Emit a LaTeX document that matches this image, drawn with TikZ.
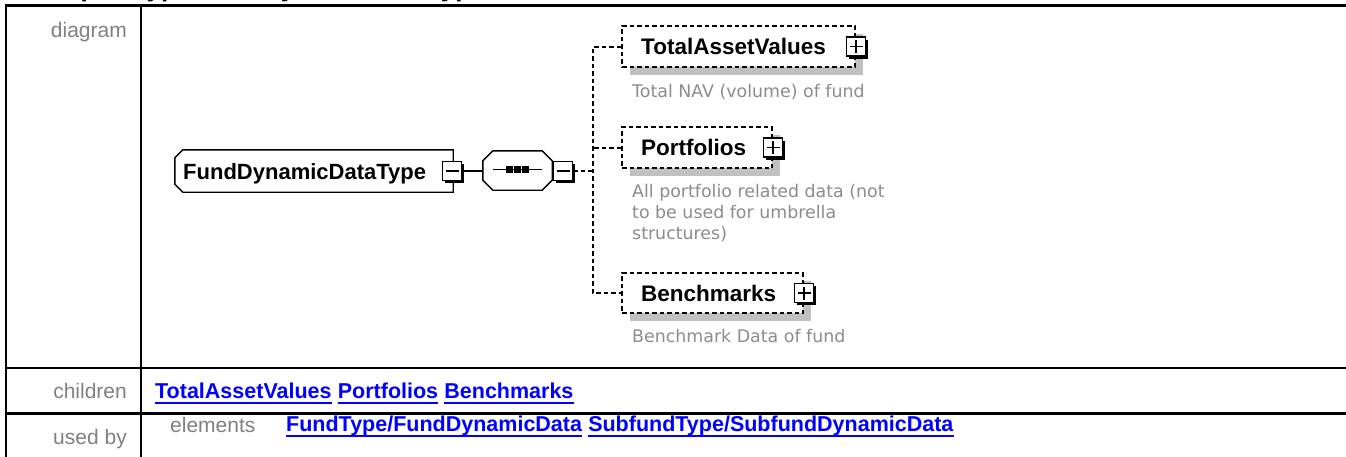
\documentclass[tikz,border=0pt]{standalone}
\usepackage{fontspec}
\setmainfont{Liberation Sans}
\newfontfamily\descfont{DejaVu Sans}
\usetikzlibrary{calc,shadows}
\definecolor{lbl}{RGB}{128,128,128}
\definecolor{desc}{RGB}{140,140,140}
\definecolor{shad}{RGB}{192,192,192}
\definecolor{lnk}{RGB}{0,0,255}
\tikzset{
  tbl/.style={line width=2.5pt, line cap=rect},
  rowlabel/.style={anchor=base east, text=lbl, font=\fontsize{21}{25}\selectfont, inner sep=0pt},
  plainlbl/.style={anchor=base west, text=lbl, font=\fontsize{21}{25}\selectfont, inner sep=0pt},
  link/.style={anchor=base west, text=lnk, font=\fontsize{21.5}{25}\selectfont\bfseries, inner sep=0pt},
  ul/.style={draw=lnk, line width=2pt},
  etext/.style={anchor=west, font=\fontsize{22.5}{26}\selectfont\bfseries, inner sep=0pt},
  desctext/.style={anchor=base west, text=desc, font=\descfont\fontsize{17.4}{21}\selectfont, inner sep=0pt},
  frame/.style={inner sep=0pt},
  outline/.style={draw=black, line width=1.4pt, fill=white},
  shadowfill/.style={fill=shad},
  elem/.style={draw=black, dash pattern=on 4.5pt off 3pt, line width=2pt, fill=white, inner sep=0pt,
    drop shadow={shadow xshift=8pt, shadow yshift=-8pt, fill=shad, opacity=1}},
  btn/.style={draw=black, line width=1.6pt, fill=white, minimum size=19pt, inner sep=0pt,
    drop shadow={shadow xshift=2.5pt, shadow yshift=-2.5pt, fill=black, opacity=1}},
  minusbtn/.style={btn, path picture={\draw[line width=1.5pt] ([xshift=3pt]path picture bounding box.west) -- ([xshift=-3pt]path picture bounding box.east);}},
  plusbtn/.style={btn, path picture={\draw[line width=1.5pt] ([xshift=3pt]path picture bounding box.west) -- ([xshift=-3pt]path picture bounding box.east) ([yshift=-3pt]path picture bounding box.north) -- ([yshift=3pt]path picture bounding box.south);}},
  conn/.style={draw=black, line width=1.4pt},
  dconn/.style={draw=black, line width=2pt, dash pattern=on 4.5pt off 3pt},
}
\begin{document}
\begin{tikzpicture}[x=1pt,y=-1pt]
\useasboundingbox (0,0) rectangle (1346,456);
\clip (0,0) rectangle (1346,456);
\fill[white] (0,0) rectangle (1346,456);

% clipped title
\node[anchor=base west, font=\fontsize{26}{30}\selectfont\bfseries, inner sep=0pt] (title) at (27,-3.5) {complexType FundDynamicDataType};

% table
\draw[tbl] (6,5.5) -- (1346,5.5);
\draw[tbl] (6,368) -- (1346,368);
\draw[tbl] (6,413.5) -- (1346,413.5);
\draw[tbl] (6,5.5) -- (6,460);
\draw[tbl] (141,5.5) -- (141,460);

\node[rowlabel] (ldiag) at (127,37) {diagram};
\node[rowlabel] (lchild) at (127,398) {children};
\node[rowlabel] (lused) at (127,444) {used by};
\node[plainlbl] (lelem) at (170,432) {elements};

% children links
\node[link] (c1) at (155,398) {TotalAssetValues};
\node[link] (c2) at ([xshift=5.8pt]c1.base east) {Portfolios};
\node[link] (c3) at ([xshift=5.8pt]c2.base east) {Benchmarks};
\foreach \n in {c1,c2,c3}{\draw[ul] ([yshift=-4.5pt]\n.base west) -- ([yshift=-4.5pt]\n.base east);}
% used by links
\node[link] (u1) at (286,431) {FundType/FundDynamicData};
\node[link] (u2) at ([xshift=5.8pt]u1.base east) {SubfundType/SubfundDynamicData};
\foreach \n in {u1,u2}{\draw[ul] ([yshift=-4.5pt]\n.base west) -- ([yshift=-4.5pt]\n.base east);}

% root node
\node[frame, minimum width=278pt, minimum height=42pt] (root) at (314,171) {};
\path[shadowfill, shift={(8,8)}] ($(root.north west)+(8,0)$) -- (root.north east) -- (root.south east) -- ($(root.south west)+(8,0)$) -- ($(root.south west)+(0,-8)$) -- ($(root.north west)+(0,8)$) -- cycle;
\path[outline] ($(root.north west)+(8,0)$) -- (root.north east) -- (root.south east) -- ($(root.south west)+(8,0)$) -- ($(root.south west)+(0,-8)$) -- ($(root.north west)+(0,8)$) -- cycle;
\node[anchor=base west, font=\fontsize{22}{26}\selectfont\bfseries, inner sep=0pt] (roottext) at (183,179) {FundDynamicDataType};
\node[minusbtn] (rootbtn) at (452,171) {};

% sequence node
\node[frame, minimum width=69pt, minimum height=39pt] (seq) at (517.5,170.5) {};
\path[shadowfill, shift={(7,7)}] ($(seq.north west)+(10,0)$) -- ($(seq.north east)+(-10,0)$) -- ($(seq.north east)+(0,10)$) -- ($(seq.south east)+(0,-10)$) -- ($(seq.south east)+(-10,0)$) -- ($(seq.south west)+(10,0)$) -- ($(seq.south west)+(0,-10)$) -- ($(seq.north west)+(0,10)$) -- cycle;
\path[outline] ($(seq.north west)+(10,0)$) -- ($(seq.north east)+(-10,0)$) -- ($(seq.north east)+(0,10)$) -- ($(seq.south east)+(0,-10)$) -- ($(seq.south east)+(-10,0)$) -- ($(seq.south west)+(10,0)$) -- ($(seq.south west)+(0,-10)$) -- ($(seq.north west)+(0,10)$) -- cycle;
\draw[line width=1.6pt] ($(seq.center)+(-24.5,-1)$) -- ($(seq.center)+(24.5,-1)$);
\foreach \dx in {-11.5,-3.5,4.5}{\fill ($(seq.center)+(\dx,-4.5)$) rectangle +(7,7);}
\node[minusbtn] (seqbtn) at (563,171) {};

\draw[conn] (rootbtn.east) -- (rootbtn.east -| seq.west);

% children elements
\node[elem, minimum width=233pt, minimum height=41pt] (tav) at (738.5,46.5) {};
\node[etext] (tavt) at ([xshift=20pt]tav.west) {TotalAssetValues};
\node[plusbtn] (tavbtn) at (tav.east) {};
\node[desctext] (tavd) at (632,97) {Total NAV (volume) of fund};

\node[elem, minimum width=150pt, minimum height=41pt] (pf) at (697,147.5) {};
\node[etext] (pft) at ([xshift=20pt]pf.west) {Portfolios};
\node[plusbtn] (pfbtn) at (pf.east) {};
\node[desctext] (pfd1) at (632,197) {All portfolio related data (not};
\node[desctext] (pfd2) at (632,218) {to be used for umbrella};
\node[desctext] (pfd3) at (632,239) {structures)};

\node[elem, minimum width=181pt, minimum height=40pt] (bm) at (712.5,293) {};
\node[etext] (bmt) at ([xshift=20pt]bm.west) {Benchmarks};
\node[plusbtn] (bmbtn) at (bm.east) {};
\node[desctext] (bmd) at (632,342) {Benchmark Data of fund};

% connectors
\coordinate (bus) at (593,171);
\draw[dconn] (seqbtn.east) -- (seqbtn.east -| bus);
\draw[dconn] (tav.west) -- (tav.west -| bus) -- (bm.west -| bus) -- (bm.west);
\draw[dconn] (pf.west) -- (pf.west -| bus);
\end{tikzpicture}
\end{document}
